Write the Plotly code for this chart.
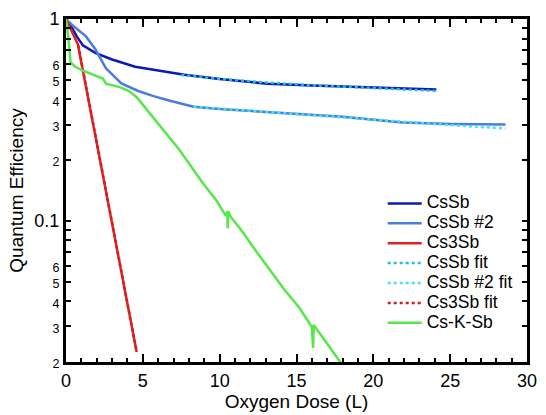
import plotly.graph_objects as go

# ---- data ----
cssb_x = [0, 0.3, 0.7, 1.1, 1.9, 3.0, 4.5, 6.0, 7.7, 10.0, 13.1, 16.0, 20.0, 24.1]
cssb_y = [1.0, 0.93, 0.82, 0.74, 0.68, 0.63, 0.58, 0.555, 0.53, 0.505, 0.478, 0.468, 0.457, 0.447]

cssb2_x = [0, 0.5, 1.3, 1.9, 2.6, 3.6, 4.7, 5.7, 6.7, 8.3, 10.0, 12.0, 15.0, 18.0, 21.9, 25.0, 28.6]
cssb2_y = [1.0, 0.92, 0.82, 0.71, 0.57, 0.48, 0.44, 0.415, 0.395, 0.368, 0.358, 0.35, 0.34, 0.328, 0.307, 0.302, 0.30]

cs3sb_x = [0, 0.3, 0.77, 4.6]
cs3sb_y = [1.0, 0.9, 0.75, 0.0224]

cssb_fit_x = [7.5, 10.0, 13.0, 16.0, 20.0, 24.2]
cssb_fit_y = [0.528, 0.505, 0.485, 0.47, 0.455, 0.44]

cssb2_fit_x = [8.3, 10.0, 12.0, 15.0, 18.0, 22.0, 25.0, 28.6]
cssb2_fit_y = [0.368, 0.36, 0.352, 0.34, 0.327, 0.31, 0.298, 0.287]

cs3sb_fit_x = [0.8, 4.6]
cs3sb_fit_y = [0.74, 0.0224]

cskSb_x = [0, 0.05, 0.13, 0.3, 0.6, 1.1, 1.8, 2.4, 2.6, 3.5, 4.1, 4.6, 5.1, 6.2, 7.4, 8.9, 9.8,
           10.4, 10.5, 10.52, 10.55, 10.75, 11.5, 12.3, 13.2, 14.2, 15.2, 16.0, 16.08, 16.12,
           16.4, 17.0, 17.85]
cskSb_y = [1.0, 0.95, 0.84, 0.61, 0.58, 0.555, 0.53, 0.507, 0.478, 0.46, 0.44, 0.41, 0.368, 0.29,
           0.224, 0.154, 0.126, 0.106, 0.111, 0.092, 0.112, 0.104, 0.088, 0.072, 0.058, 0.0457,
           0.037, 0.0298, 0.0235, 0.0305, 0.0285, 0.0245, 0.020]

y_major_vals = [0.02, 0.03, 0.04, 0.05, 0.06, 0.1, 0.2, 0.3, 0.4, 0.5, 0.6, 1.0]
y_major_text = ["2", "3", "4", "5", "6", "0.1", "2", "3", "4", "5", "6", "1"]
y_minor_vals = [0.07, 0.08, 0.09, 0.7, 0.8, 0.9]

small = "<span style='font-size:12.5px'>%s</span>"
y_ticktext = [t if t in ("0.1", "1") else small % t for t in y_major_text]

fig = go.Figure()

def add(x, y, name, color, dash="solid", width=2.5):
    fig.add_trace(go.Scatter(x=x, y=y, mode="lines",
                             name="<span style='font-size:17.5px'>%s</span>" % name,
                             line=dict(color=color, width=width, dash=dash)))

add(cssb_x, cssb_y, "CsSb", "#0c18b8")
add(cssb2_x, cssb2_y, "CsSb #2", "#4a7ce0")
add(cs3sb_x, cs3sb_y, "Cs3Sb", "#e02222")
add(cssb_fit_x, cssb_fit_y, "CsSb fit", "#1cc4d4", dash="dot")
add(cssb2_fit_x, cssb2_fit_y, "CsSb #2 fit", "#40e4f4", dash="dot")
add(cs3sb_fit_x, cs3sb_fit_y, "Cs3Sb fit", "#d81c1c", dash="dot")
add(cskSb_x, cskSb_y, "Cs-K-Sb", "#55e848")

font_family = "Liberation Sans, Arial, sans-serif"

fig.update_layout(
    width=546, height=415,
    margin=dict(l=66, r=9, t=14, b=53),
    paper_bgcolor="white", plot_bgcolor="white",
    font=dict(family=font_family, color="black", size=18),
    showlegend=True,
    legend=dict(x=0.687, y=0.506, xanchor="left", yanchor="top",
                bgcolor="rgba(0,0,0,0)", font=dict(size=13, family=font_family),
                tracegroupgap=0, itemwidth=34),
    xaxis=dict(range=[0, 30], showgrid=False, zeroline=False,
               showline=True, linecolor="black", linewidth=3, mirror="ticks",
               ticks="inside", ticklen=8, tickwidth=2, tickcolor="black",
               tickvals=[0, 5, 10, 15, 20, 25, 30],
               minor=dict(ticks="inside", ticklen=4, tickwidth=1.5, tickcolor="black", dtick=1),
               title=dict(text="Oxygen Dose (L)", font=dict(size=19), standoff=2),
               tickfont=dict(size=18)),
    yaxis=dict(type="log", range=[-1.69897, 0], showgrid=False, zeroline=False,
               showline=True, linecolor="black", linewidth=3, mirror="ticks",
               ticks="inside", ticklen=5, tickwidth=1.5, tickcolor="black",
               tickvals=y_major_vals, ticktext=y_ticktext,
               minor=dict(ticks="inside", ticklen=5, tickwidth=1.5, tickcolor="black",
                          tickvals=y_minor_vals),
               title=dict(text="Quantum Efficiency", font=dict(size=19), standoff=6),
               tickfont=dict(size=18)),
    yaxis2=dict(type="log", range=[-1.69897, 0], overlaying="y", side="left",
                showgrid=False, zeroline=False, showline=False,
                ticks="inside", ticklen=10, tickwidth=2, tickcolor="black",
                tickvals=[0.1, 1.0], showticklabels=False),
    yaxis3=dict(type="log", range=[-1.69897, 0], overlaying="y", side="right",
                showgrid=False, zeroline=False, showline=False,
                ticks="inside", ticklen=10, tickwidth=2, tickcolor="black",
                tickvals=[0.1, 1.0], showticklabels=False),
)

fig.write_html("out.html")
